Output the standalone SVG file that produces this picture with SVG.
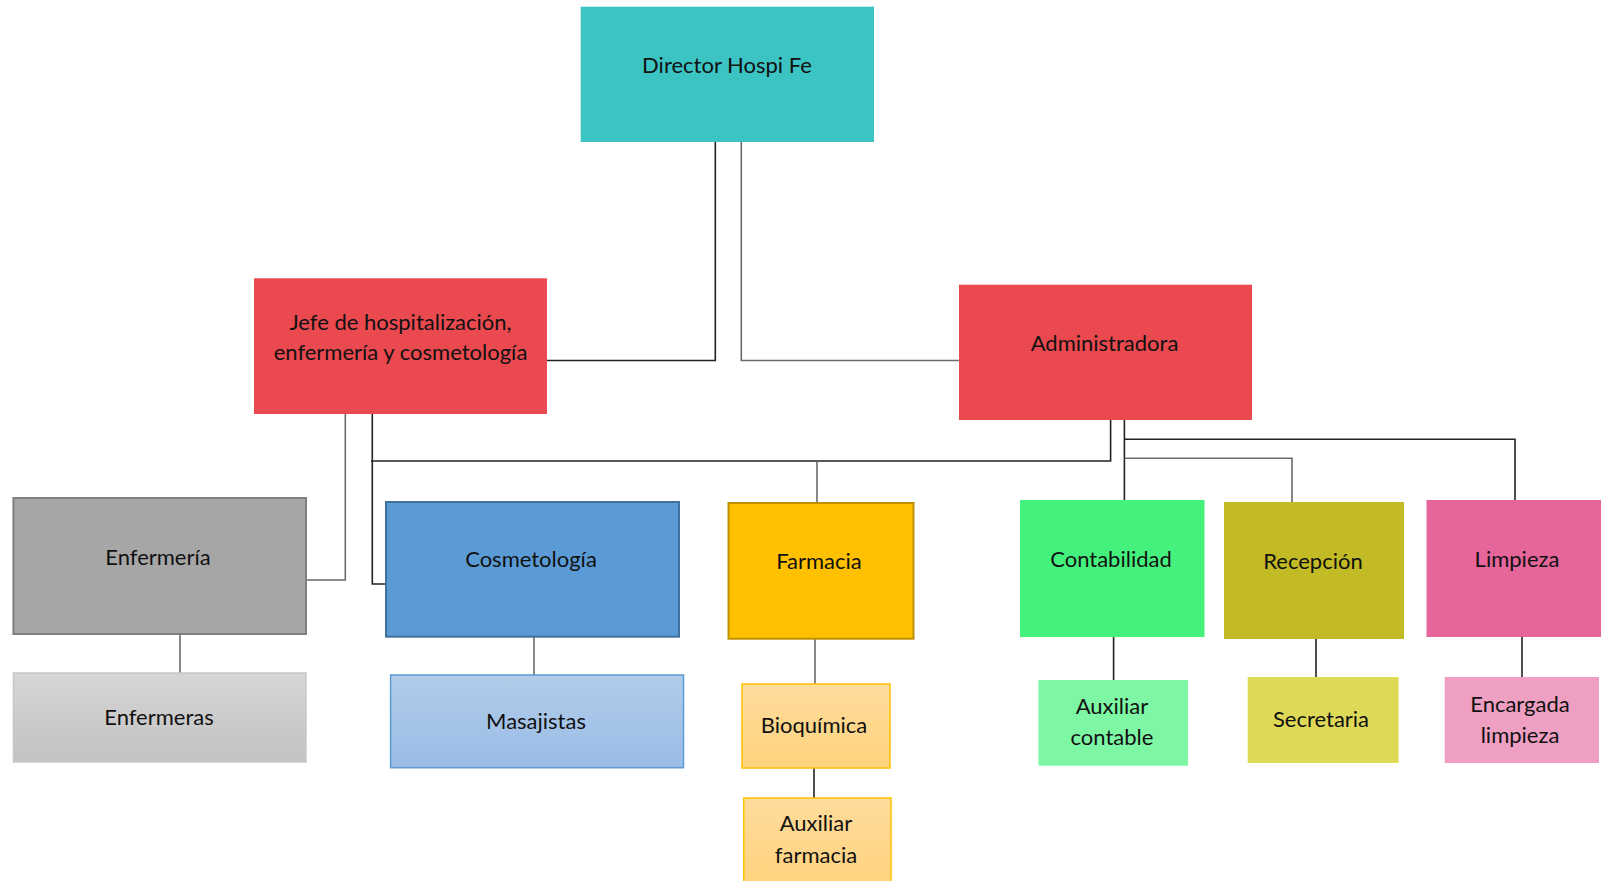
<svg xmlns="http://www.w3.org/2000/svg" width="1601" height="881" viewBox="0 0 1601 881">
<style>
text{font-family:"Lato","Liberation Sans",sans-serif;font-size:22px;fill:#111;text-anchor:middle}
.c{fill:none;stroke-width:1.6}
.k{stroke:#222}
.g{stroke:#6a6a6a}
</style>
<defs>
<linearGradient id="gGray" x1="0" y1="0" x2="0" y2="1"><stop offset="0" stop-color="#D6D6D6"/><stop offset="1" stop-color="#C2C2C2"/></linearGradient>
<linearGradient id="gBlue" x1="0" y1="0" x2="0" y2="1"><stop offset="0" stop-color="#B2CCEA"/><stop offset="1" stop-color="#9ABCE6"/></linearGradient>
<linearGradient id="gYel" x1="0" y1="0" x2="0" y2="1"><stop offset="0" stop-color="#FFDC9C"/><stop offset="1" stop-color="#FFD37E"/></linearGradient>
</defs>
<rect width="1601" height="881" fill="#fff"/>
<g id="connectors">
<polyline class="c k" points="715.3,142 715.3,360.5 547,360.5"/>
<polyline class="c g" points="741.3,142 741.3,360.5 959,360.5"/>
<polyline class="c g" points="345.3,414 345.3,580 306,580"/>
<polyline class="c k" points="372.3,414 372.3,584 386,584"/>
<polyline class="c k" points="1110.6,420 1110.6,461 371,461"/>
<polyline class="c g" points="817,461 817,503"/>
<polyline class="c k" points="1124.4,420 1124.4,500"/>
<polyline class="c k" points="1124.4,439.3 1515,439.3 1515,500"/>
<polyline class="c g" points="1124.4,458.3 1292,458.3 1292,502"/>
<line class="c g" x1="180" y1="634" x2="180" y2="673"/>
<line class="c g" x1="534" y1="637" x2="534" y2="676"/>
<line class="c g" x1="815" y1="639" x2="815" y2="684"/>
<line class="c k" x1="814" y1="768" x2="814" y2="798"/>
<line class="c k" x1="1113.6" y1="637" x2="1113.6" y2="680"/>
<line class="c k" x1="1316" y1="639" x2="1316" y2="677" stroke-width="1.2"/>
<line class="c k" x1="1522" y1="637" x2="1522" y2="677" stroke-width="1.2"/>
</g>
<g id="director"><rect x="580.7" y="6.7" width="293.3" height="135.3" fill="#3CC3C3"/><text x="727" y="73">Director Hospi Fe</text></g>
<g id="jefe"><rect x="254" y="278.3" width="293" height="135.7" fill="#E9494F"/><text x="400.5" y="329.5">Jefe de hospitalización,</text><text x="400.5" y="359.5">enfermería y cosmetología</text></g>
<g id="administradora"><rect x="959" y="284.7" width="293" height="135.3" fill="#E9494F"/><text x="1104.5" y="351">Administradora</text></g>
<g id="enfermeria"><rect x="13.4" y="498" width="292.6" height="136" fill="#A6A6A6" stroke="#7F7F7F" stroke-width="2"/><text x="158" y="565">Enfermería</text></g>
<g id="cosmetologia"><rect x="386" y="502" width="293" height="134.7" fill="#5B9BD5" stroke="#41719C" stroke-width="2"/><text x="531" y="567">Cosmetología</text></g>
<g id="farmacia"><rect x="728.5" y="503" width="185" height="135.7" fill="#FFC000" stroke="#BF9000" stroke-width="2"/><text x="819" y="569">Farmacia</text></g>
<g id="contabilidad"><rect x="1020" y="500" width="184.5" height="137" fill="#45F17D"/><text x="1111" y="567">Contabilidad</text></g>
<g id="recepcion"><rect x="1224" y="502" width="180" height="137" fill="#C2BB25"/><text x="1313" y="569">Recepción</text></g>
<g id="limpieza"><rect x="1426.5" y="500" width="174.5" height="137" fill="#E6659B"/><text x="1517" y="567">Limpieza</text></g>
<g id="enfermeras"><rect x="13.4" y="673" width="292.6" height="89" fill="url(#gGray)" stroke="#C8C8C8" stroke-width="1.5"/><text x="159" y="725">Enfermeras</text></g>
<g id="masajistas"><rect x="390.6" y="675" width="292.9" height="92.7" fill="url(#gBlue)" stroke="#5B9BD5" stroke-width="1.5"/><text x="536" y="729">Masajistas</text></g>
<g id="bioquimica"><rect x="742" y="684" width="148" height="84" fill="url(#gYel)" stroke="#FFC000" stroke-width="1.5"/><text x="814" y="732.5">Bioquímica</text></g>
<g id="auxiliar-farmacia"><rect x="743.8" y="798" width="147.2" height="86" fill="url(#gYel)" stroke="#FFC000" stroke-width="1.5"/><text x="816" y="830.5">Auxiliar</text><text x="816" y="863">farmacia</text></g>
<g id="auxiliar-contable"><rect x="1038.4" y="680" width="149.6" height="85.7" fill="#7EF7A5"/><text x="1112" y="714">Auxiliar</text><text x="1112" y="745">contable</text></g>
<g id="secretaria"><rect x="1247.7" y="677" width="150.9" height="86" fill="#DEDA58"/><text x="1321" y="727">Secretaria</text></g>
<g id="encargada-limpieza"><rect x="1444.7" y="677" width="154.3" height="86" fill="#EF9FC2"/><text x="1520" y="712">Encargada</text><text x="1520" y="743">limpieza</text></g>
</svg>
